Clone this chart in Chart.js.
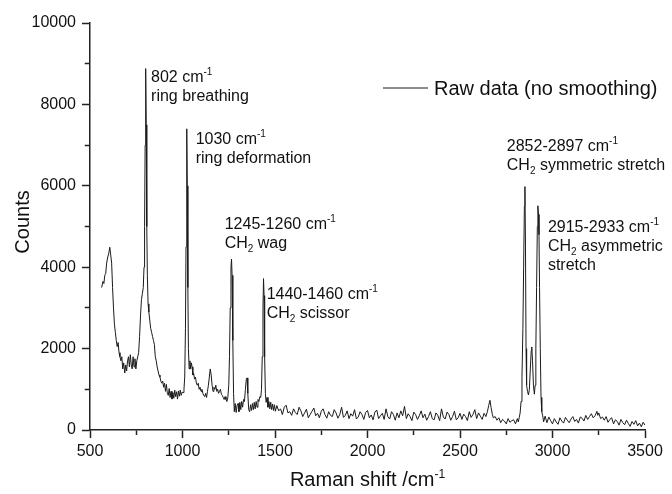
<!DOCTYPE html>
<html>
<head>
<meta charset="utf-8">
<script src="https://cdn.jsdelivr.net/npm/chart.js@4.4.1/dist/chart.umd.min.js"></script>
<style>
  html, body { margin: 0; padding: 0; background: #fff; }
</style>
</head>
<body>
<canvas id="chart" width="672" height="494"></canvas>
<script>
// Raman shift (cm^-1)
const ramanShift = [
  563, 570, 575, 580, 585, 590, 596, 602, 607, 612,
  617, 622, 627, 632, 637, 642, 647, 652, 657, 662,
  667, 672, 677, 682, 688, 693, 698, 703, 708, 713,
  718, 723, 728, 733, 738, 743, 748, 753, 758, 763,
  768, 773, 778, 783, 788, 792, 795, 798, 801, 804,
  807, 810, 814, 818, 823, 828, 833, 838, 843, 848,
  853, 858, 863, 868, 873, 878, 883, 888, 893, 898,
  903, 908, 913, 918, 923, 928, 933, 938, 943, 948,
  953, 958, 963, 968, 973, 978, 983, 988, 993, 998,
  1003, 1008, 1012, 1016, 1019, 1022, 1024, 1026, 1029, 1032,
  1036, 1040, 1044, 1048, 1052, 1056, 1060, 1065, 1070, 1075,
  1080, 1085, 1090, 1095, 1100, 1105, 1110, 1115, 1120, 1125,
  1130, 1135, 1140, 1145, 1150, 1155, 1160, 1165, 1170, 1175,
  1180, 1185, 1190, 1195, 1200, 1205, 1210, 1215, 1220, 1225,
  1230, 1235, 1240, 1245, 1250, 1254, 1258, 1262, 1265, 1268,
  1272, 1276, 1280, 1285, 1290, 1295, 1300, 1305, 1310, 1315,
  1320, 1325, 1330, 1335, 1340, 1345, 1349, 1353, 1358, 1363,
  1368, 1373, 1378, 1383, 1388, 1393, 1398, 1403, 1408, 1413,
  1418, 1423, 1427, 1431, 1435, 1438, 1441, 1444, 1448, 1452,
  1457, 1462, 1467, 1472, 1477, 1482, 1487, 1492, 1497, 1502,
  1510, 1520, 1530, 1540, 1550, 1560, 1570, 1580, 1590, 1600,
  1610, 1620, 1630, 1640, 1650, 1660, 1670, 1680, 1690, 1700,
  1710, 1720, 1730, 1740, 1750, 1760, 1770, 1780, 1790, 1800,
  1810, 1820, 1830, 1840, 1850, 1860, 1870, 1880, 1890, 1900,
  1910, 1920, 1930, 1940, 1950, 1960, 1970, 1980, 1990, 2000,
  2010, 2020, 2030, 2040, 2050, 2060, 2070, 2080, 2090, 2100,
  2110, 2120, 2130, 2140, 2150, 2160, 2170, 2180, 2190, 2200,
  2210, 2220, 2230, 2240, 2250, 2260, 2270, 2280, 2290, 2300,
  2310, 2320, 2330, 2340, 2350, 2360, 2370, 2380, 2390, 2400,
  2410, 2420, 2430, 2440, 2450, 2460, 2470, 2480, 2490, 2500,
  2510, 2520, 2530, 2540, 2550, 2560, 2570, 2580, 2590, 2600,
  2610, 2620, 2630, 2640, 2648, 2655, 2662, 2668, 2675, 2680,
  2690, 2700, 2710, 2720, 2730, 2740, 2750, 2760, 2770, 2780,
  2790, 2800, 2810, 2815, 2820, 2825, 2830, 2835, 2840, 2844,
  2848, 2851, 2854, 2857, 2860, 2865, 2870, 2875, 2880, 2885,
  2888, 2892, 2897, 2902, 2906, 2910, 2914, 2918, 2921, 2924,
  2927, 2930, 2934, 2938, 2942, 2947, 2952, 2960, 2970, 2980,
  2990, 3000, 3010, 3020, 3030, 3040, 3050, 3060, 3070, 3080,
  3090, 3100, 3110, 3120, 3130, 3140, 3150, 3160, 3170, 3180,
  3190, 3200, 3210, 3220, 3230, 3240, 3245, 3250, 3260, 3270,
  3280, 3290, 3300, 3310, 3320, 3330, 3340, 3350, 3360, 3370,
  3380, 3390, 3400, 3410, 3420, 3430, 3440, 3450, 3460, 3470,
  3480, 3490, 3500
];

// raw counts at each shift (no smoothing)
const rawCounts = [
  3500, 3650, 3600, 3800, 3850, 4100, 4250, 4350, 4490, 4300,
  4100, 3500, 3000, 2600, 2400, 2200, 2050, 2150, 1900, 1800,
  1700, 1800, 1500, 1650, 1400, 1600, 1450, 1700, 1800, 1550,
  1850, 1600, 1500, 1800, 1550, 1750, 1500, 1700, 1800, 1900,
  2300, 2800, 3200, 3350, 3500, 4000, 5000, 7000, 8880, 7500,
  5000, 3800, 3100, 2900, 2700, 2500, 2400, 2300, 2200, 2100,
  1800, 1700, 1550, 1450, 1350, 1300, 1200, 1150, 1200, 1050,
  1150, 950, 1120, 900, 850, 1020, 800, 950, 760, 920,
  780, 980, 820, 940, 760, 960, 830, 980, 850, 930,
  920, 1000, 1300, 2500, 4500, 6500, 7400, 6000, 3500, 2000,
  1500, 1700, 1500, 1650, 1550, 1350, 1400, 1250, 1300, 1150,
  1100, 1150, 1000, 1050, 950, 1000, 900, 850, 820, 900,
  800, 950, 1100, 1300, 1500, 1350, 1100, 950, 1050, 1000,
  1100, 950, 1000, 900, 950, 1000, 880, 850, 800, 750,
  820, 750, 700, 800, 1100, 1800, 3000, 4000, 4200, 3800,
  2200, 900, 450, 650, 430, 600, 650, 450, 680, 500,
  700, 560, 750, 700, 1000, 1250, 1280, 900, 500, 450,
  620, 480, 650, 500, 680, 520, 700, 560, 750, 700,
  820, 800, 1000, 1800, 3000, 3720, 3300, 1800, 900, 680,
  800, 560, 700, 520, 680, 500, 640, 480, 620, 460,
  600, 470, 520, 380, 560, 610, 420, 450, 360, 520,
  430, 380, 560, 470, 330, 420, 510, 300, 380, 460,
  540, 350, 410, 300, 460, 520, 380, 290, 450, 360,
  330, 500, 420, 290, 380, 560, 310, 360, 470, 280,
  400, 340, 500, 270, 320, 450, 380, 260, 430, 480,
  300, 370, 250, 440, 490, 280, 350, 410, 260, 520,
  330, 270, 450, 380, 240, 420, 300, 470, 350, 580,
  280, 400, 330, 230, 440, 380, 260, 350, 470, 300,
  390, 240, 330, 450, 280, 250, 420, 360, 230, 520,
  320, 270, 440, 380, 240, 330, 460, 250, 300, 410,
  260, 390, 330, 230, 450, 310, 380, 500, 280, 420,
  340, 260, 410, 330, 450, 600, 730, 550, 380, 300,
  330, 240, 300, 180, 260, 220, 150, 280, 190, 230,
  250, 150, 280, 200, 300, 420, 700, 1300, 2500, 4000,
  5500, 5980, 4500, 2000, 1100, 950, 860, 1000, 1500, 1950,
  2040, 1700, 1100, 880, 1100, 2000, 3500, 5000, 5510, 5300,
  4800, 3500, 2000, 800, 450, 350, 200, 340, 180, 320,
  230, 150, 280, 200, 140, 300, 220, 170, 310, 240,
  180, 270, 330, 210, 260, 170, 320, 290, 220, 360,
  260, 330, 400, 300, 350, 460, 360, 420, 280, 320,
  240, 330, 190, 260, 300, 150, 250, 210, 120, 260,
  180, 130, 240, 160, 90, 210, 140, 230, 100, 170,
  80, 190, 120
];

const xTickLabels = ['500', '1000', '1500', '2000', '2500', '3000', '3500'];
const yTickLabels = ['0', '2000', '4000', '6000', '8000', '10000'];

const seriesName = 'Raw data (no smoothing)';
const xTitle = 'Raman shift /cm^{-1}';
const yTitle = 'Counts';

// peak assignments; x/y = data point where the first text line starts
const peakNotes = [
  { x: 830, y: 8550, lines: ['802 cm^{-1}', 'ring breathing'] },
  { x: 1071, y: 7027, lines: ['1030 cm^{-1}', 'ring deformation'] },
  { x: 1228, y: 4939, lines: ['1245-1260 cm^{-1}', 'CH_{2} wag'] },
  { x: 1455, y: 3219, lines: ['1440-1460 cm^{-1}', 'CH_{2} scissor'] },
  { x: 2753, y: 6855, lines: ['2852-2897 cm^{-1}', 'CH_{2} symmetric stretch'] },
  { x: 2975, y: 4865, lines: ['2915-2933 cm^{-1}', 'CH_{2} asymmetric', 'stretch'] }
];

const FONT = '"Liberation Sans", Arial, sans-serif';

// split "CH_{2}" / "cm^{-1}" into normal, sub and sup runs
function parseRich(str) {
  const runs = [];
  const re = /([_^])\{([^}]*)\}/g;
  let last = 0, m;
  while ((m = re.exec(str))) {
    if (m.index > last) runs.push({ t: str.slice(last, m.index), k: 'n' });
    runs.push({ t: m[2], k: m[1] === '^' ? 'sup' : 'sub' });
    last = re.lastIndex;
  }
  if (last < str.length) runs.push({ t: str.slice(last), k: 'n' });
  return runs;
}

function drawRich(ctx, str, x, y, size, align) {
  const runs = parseRich(str);
  const small = Math.round(size * 0.6);
  let w = 0;
  runs.forEach(r => {
    ctx.font = (r.k === 'n' ? size : small) + 'px ' + FONT;
    r.w = ctx.measureText(r.t).width;
    w += r.w;
  });
  let cx = align === 'center' ? x - w / 2 : x;
  ctx.textAlign = 'left';
  ctx.textBaseline = 'alphabetic';
  runs.forEach(r => {
    ctx.font = (r.k === 'n' ? size : small) + 'px ' + FONT;
    const dy = r.k === 'sup' ? -size * 0.42 : r.k === 'sub' ? size * 0.25 : 0;
    ctx.fillText(r.t, cx, y + dy);
    cx += r.w;
  });
}

const textPlugin = {
  id: 'ramanText',
  afterDraw(chart) {
    const { ctx, chartArea } = chart;
    const xs = chart.scales.x, ys = chart.scales.y;
    ctx.save();
    ctx.fillStyle = '#111';

    peakNotes.forEach(n => {
      const px = xs.getPixelForValue(n.x);
      const py = ys.getPixelForValue(n.y);
      n.lines.forEach((line, i) => drawRich(ctx, line, px, py + i * 19, 16, 'left'));
    });

    // legend
    const ds = chart.data.datasets[0];
    ctx.strokeStyle = ds.borderColor;
    ctx.lineWidth = 1;
    ctx.beginPath();
    ctx.moveTo(383, 88);
    ctx.lineTo(428, 88);
    ctx.stroke();
    drawRich(ctx, ds.label, 434, 95, 20, 'left');

    // axis titles
    drawRich(ctx, xTitle, (chartArea.left + chartArea.right) / 2, 486, 20, 'center');
    ctx.translate(29, 222);
    ctx.rotate(-Math.PI / 2);
    drawRich(ctx, yTitle, 0, 0, 20, 'center');
    ctx.restore();
  }
};

const tickFont = { size: 16, family: FONT };

new Chart(document.getElementById('chart'), {
  type: 'line',
  data: {
    datasets: [{
      label: seriesName,
      data: ramanShift.map((s, i) => ({ x: s, y: rawCounts[i] })),
      borderColor: '#1a1a1a',
      borderWidth: 1,
      pointRadius: 0,
      tension: 0,
      fill: false
    }]
  },
  options: {
    responsive: false,
    animation: false,
    layout: { padding: { top: 23, right: 27, left: 0, bottom: 0 } },
    plugins: { legend: { display: false }, tooltip: { enabled: false } },
    scales: {
      x: {
        type: 'linear',
        min: 500,
        max: 3500,
        afterFit(s) { s.height = 64; },
        border: { color: '#222', width: 1.5 },
        grid: {
          drawOnChartArea: false,
          color: '#222',
          tickLength: 8,
          tickWidth: 1.5,
          tickBorderDash: c => (c.tick && c.tick.value % 500 ? [4.5, 20] : [])
        },
        ticks: {
          stepSize: 250,
          autoSkip: false,
          maxRotation: 0,
          padding: 4,
          color: '#111',
          font: tickFont,
          callback: v => (xTickLabels.includes(String(v)) ? String(v) : '')
        }
      },
      y: {
        min: 0,
        max: 10000,
        afterFit(s) { s.width = 90; },
        border: { color: '#222', width: 1.5 },
        grid: {
          drawOnChartArea: false,
          color: '#222',
          tickLength: 8,
          tickWidth: 1.5,
          tickBorderDash: c => (c.tick && c.tick.value % 2000 ? [0, 2.75, 5, 20] : [])
        },
        ticks: {
          stepSize: 1000,
          autoSkip: false,
          padding: 6,
          color: '#111',
          font: tickFont,
          callback: v => (yTickLabels.includes(String(v)) ? String(v) : '')
        }
      }
    }
  },
  plugins: [textPlugin]
});
</script>
</body>
</html>
